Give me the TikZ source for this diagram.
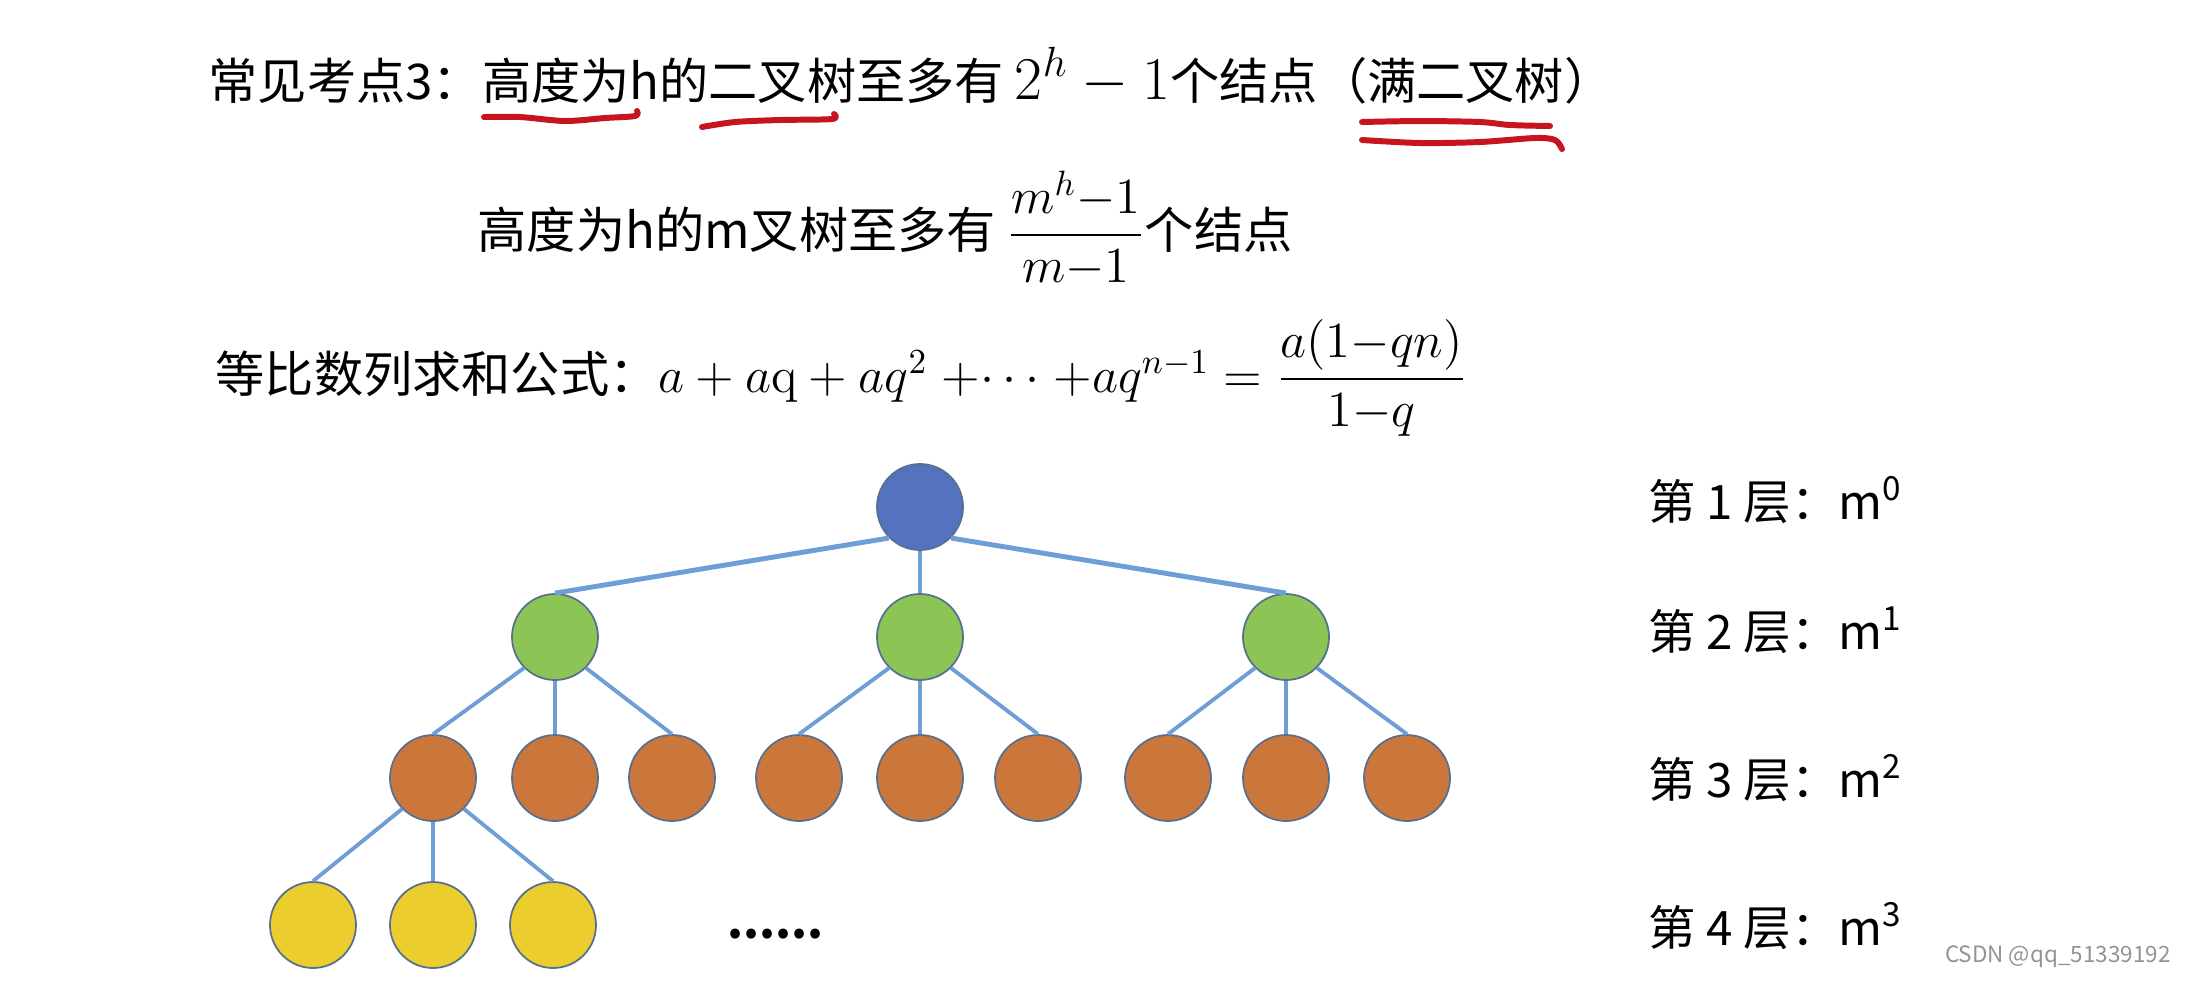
\documentclass[tikz,border=0pt]{standalone}
\usepackage{amsmath}
\usepackage[no-math]{fontspec}
\setmainfont{Noto Sans CJK SC}
\definecolor{rootfill}{HTML}{5572BE}
\definecolor{greenfill}{HTML}{8CC456}
\definecolor{orangefill}{HTML}{CB763A}
\definecolor{yellowfill}{HTML}{EBCD2E}
\definecolor{ringline}{HTML}{56708E}
\definecolor{branchline}{HTML}{6F9ED6}
\definecolor{penred}{HTML}{C8141E}
\tikzset{
    ball/.style={circle, draw=ringline, line width=.5pt, minimum size=.86cm, inner sep=0pt},
    branch/.style={draw=branchline, line width=1.1pt},
    linetext/.style={anchor=base west, inner sep=0pt, font=\fontsize{14}{17}\selectfont},
    layertext/.style={anchor=base west, inner sep=0pt, font=\fontsize{13.5}{16}\selectfont},
    penmark/.style={draw=penred, line width=1.7pt, line cap=round, line join=round}
}

\begin{document}
\begin{tikzpicture}
    \useasboundingbox (0,0) rectangle (21.99,-9.92);
    \node[linetext] (line1) at (2.08,-0.99) {常见考点3：高度为h的二叉树至多有 {\fontsize{17}{20}\selectfont$2^h-1$}个结点（满二叉树）};
    \node[linetext] (line2) at (4.77,-2.48) {高度为h的m叉树至多有 $\dfrac{m^h{-}1}{m{-}1}$个结点};
    \node[linetext] (line3) at (2.15,-3.92) {等比数列求和公式：{\fontsize{14.5}{18}\selectfont$a+a\mathrm{q}+aq^2\;{+}{\cdots}\;{+}aq^{n-1}=\dfrac{a(1{-}qn)}{1{-}q}$}};
    \draw[penmark] plot[smooth] coordinates {(4.84,-1.17) (5.2,-1.17) (5.65,-1.21) (6.05,-1.18) (6.35,-1.16) (6.37,-1.11)};
    \draw[penmark] plot[smooth] coordinates {(7.02,-1.27) (7.35,-1.22) (7.8,-1.20) (8.32,-1.19) (8.34,-1.14)};
    \draw[penmark] plot[smooth] coordinates {(13.62,-1.22) (14.2,-1.21) (14.8,-1.22) (15.1,-1.25) (15.50,-1.26)};
    \draw[penmark] plot[smooth] coordinates {(13.62,-1.40) (14.2,-1.43) (14.8,-1.42) (15.35,-1.38) (15.55,-1.40) (15.62,-1.49)};
    \node[ball, fill=rootfill] (top) at (9.20,-5.07) {};
    \foreach \i/\x in {1/5.55,2/9.20,3/12.86}
        \node[ball, fill=greenfill] (mid\i) at (\x,-6.37) {};
    \foreach \i/\x in {1/4.33,2/5.55,3/6.72,4/7.99,5/9.20,6/10.38,7/11.68,8/12.86,9/14.07}
        \node[ball, fill=orangefill] (low\i) at (\x,-7.78) {};
    \foreach \i/\x in {1/3.13,2/4.33,3/5.53}
        \node[ball, fill=yellowfill] (leaf\i) at (\x,-9.25) {};
    \draw[branch, line width=1.4pt] (top.south west) -- (mid1.north);
    \draw[branch] (top.south) -- (mid2.north);
    \draw[branch, line width=1.4pt] (top.south east) -- (mid3.north);
    \foreach \p in {1,2,3}{
        \pgfmathtruncatemacro{\ja}{3*\p-2}
        \pgfmathtruncatemacro{\jb}{3*\p-1}
        \pgfmathtruncatemacro{\jc}{3*\p}
        \draw[branch] (mid\p.south west) -- (low\ja.north);
        \draw[branch] (mid\p.south) -- (low\jb.north);
        \draw[branch] (mid\p.south east) -- (low\jc.north);
    }
    \draw[branch] (low1.south west) -- (leaf1.north);
    \draw[branch] (low1.south) -- (leaf2.north);
    \draw[branch] (low1.south east) -- (leaf3.north);
    \node[linetext, font=\fontsize{13}{16}\selectfont\bfseries] (more) at (7.27,-9.38) {......};
    \foreach \k/\y in {1/-5.19,2/-6.49,3/-7.97,4/-9.45}{
        \pgfmathtruncatemacro{\e}{\k-1}
        \node[layertext] (layer\k) at (16.48,\y) {第 \k\ 层：m\textsuperscript{\e}};
    }
    \node[anchor=east, text=gray!85, font=\fontsize{6.4}{7}\selectfont] (mark) at (21.83,-9.57) {CSDN @qq\_51339192};
\end{tikzpicture}
\end{document}
